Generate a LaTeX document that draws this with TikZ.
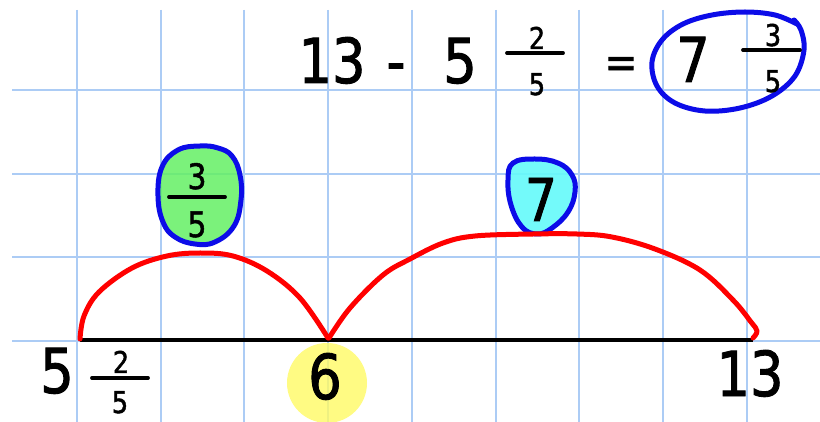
\documentclass[tikz,border=0pt]{standalone}
\usepackage{fontspec}
\setmainfont{DejaVu Sans}[FakeStretch=0.85,FakeBold=1.5]
\definecolor{gridc}{RGB}{172,204,245}
\definecolor{penblue}{RGB}{12,12,232}
\definecolor{penred}{RGB}{255,0,0}
\definecolor{fillgreen}{RGB}{100,240,100}
\definecolor{fillcyan}{RGB}{100,250,250}
\definecolor{fillyellow}{RGB}{255,250,100}
\begin{document}
\begin{tikzpicture}[x=1pt,y=-1pt,
  big/.style={inner sep=0pt,anchor=base,font=\fontsize{62}{62}\selectfont},
  small/.style={inner sep=0pt,anchor=base,font=\fontsize{30}{30}\selectfont},
  mid/.style={inner sep=0pt,anchor=base,font=\fontsize{35}{35}\selectfont},
  eqsign/.style={inner sep=0pt,anchor=base,font=\fontsize{46}{46}\selectfont},
  fracbar/.style={line width=3.8pt,line cap=round},
  pen/.style={line width=5pt,line cap=round,line join=round},
  gridline/.style={gridc,line width=2pt}]
\useasboundingbox (0,0) rectangle (820,422);
\fill[white] (0,0) rectangle (820,422);
% grid
\foreach \i in {0,...,8} \draw[gridline] ({77+83.7*\i},10) -- ({77+83.7*\i},422);
\foreach \j in {0,...,3} \draw[gridline] (12,{90+83.7*\j}) -- (820,{90+83.7*\j});
% highlight fills
\fill[fillyellow,fill opacity=0.8] (327,383) circle (40pt);
\filldraw[fill=fillgreen,fill opacity=0.85,draw=penblue,pen] plot[smooth cycle,tension=0.7] coordinates {(200,146) (218,148) (232,156) (240,175) (241,200) (234,226) (215,242) (195,244) (175,237) (163,222) (158,196) (162,167) (178,150)};
\filldraw[fill=fillcyan,fill opacity=0.9,draw=penblue,pen] plot[smooth cycle,tension=0.7] coordinates {(513,163) (535,159) (558,163) (572,175) (575,192) (568,212) (552,228) (537,234) (522,227) (511,205) (508,180)};
% number line
\coordinate (nlL) at (80,340);
\coordinate (nlR) at (753,340);
\draw[line width=4pt] (nlL) -- (nlR);
% jumps
\draw[penred,pen] plot[smooth,tension=0.6] coordinates {(80,339) (84,316) (99,292) (132,268) (167,256) (200,253) (233,256) (267,271) (300,298) (328,338)};
\draw[penred,pen] plot[smooth,tension=0.6] coordinates {(329,338) (350,308) (383,275) (410,259) (443,243) (475,236) (533,234) (577,234) (612,237) (655,249) (700,270) (733,300) (751,322) (757,331) (753,338)};
% answer ring
\draw[penblue,pen] plot[smooth,tension=0.6] coordinates {(797,24) (775,15) (745,12) (712,15) (683,24) (662,40) (652,62) (657,86) (675,103) (705,111) (740,108) (772,96) (795,76) (804,50) (801,30) (794,20)};
% top equation
\node[big] (t13) at (332,83) {13};
\node[big] (tminus) at (396,83) {-};
\node[big] (t5) at (460,83) {5};
\node[small] (tn2) at (537,49) {2};
\coordinate (tb1L) at (507,53); \coordinate (tb1R) at (563,53);
\draw[fracbar] (tb1L) -- (tb1R);
\node[small] (td5) at (537,95) {5};
\node[eqsign] (teq) at (621,78) {=};
\node[big] (t7) at (693,82) {7};
\node[small] (tn3) at (773,46) {3};
\coordinate (tb2L) at (743,50); \coordinate (tb2R) at (800,50);
\draw[fracbar] (tb2L) -- (tb2R);
\node[small] (td5b) at (773,92) {5};
% labels on jumps
\node[mid] (gn3) at (197,189) {3};
\coordinate (gbL) at (169,197); \coordinate (gbR) at (225,197);
\draw[fracbar] (gbL) -- (gbR);
\node[mid] (gd5) at (197,237) {5};
\node[inner sep=0pt,anchor=base,font=\fontsize{59}{59}\selectfont] (c7) at (541,221) {7};
% number line labels
\node[big] (b5) at (57,393) {5};
\node[small] (bn2) at (121,373) {2};
\coordinate (bbL) at (92,378); \coordinate (bbR) at (148,378);
\draw[fracbar] (bbL) -- (bbR);
\node[small] (bd5) at (120,413) {5};
\node[big] (b6) at (325,399) {6};
\node[big] (b13) at (750,396) {13};
\end{tikzpicture}
\end{document}
